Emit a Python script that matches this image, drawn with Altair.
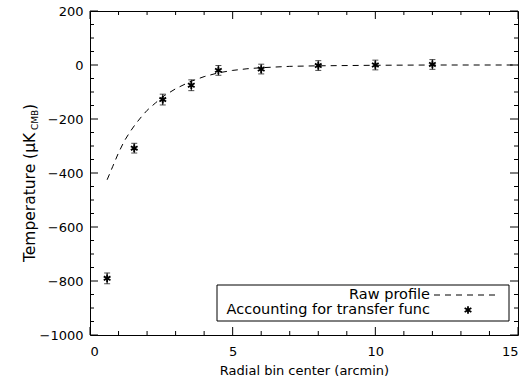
import altair as alt
import pandas as pd

# measured points (accounting for transfer function)
r_pts = [0.6, 1.55, 2.55, 3.55, 4.5, 6.0, 8.0, 10.0, 12.0]
t_pts = [-790, -308, -128, -75, -20, -15, -2, 0, 2]
t_err = [20, 18, 20, 20, 18, 18, 18, 18, 18]

# raw profile (dashed curve)
r_raw = [0.6, 0.8, 1.0, 1.2, 1.4, 1.6, 1.8, 2.0, 2.3, 2.6, 3.0, 3.5, 4.0, 4.5,
         5.0, 5.5, 6.0, 7.0, 8.0, 10.0, 12.0, 15.0]
t_raw = [-425, -375, -325, -282, -248, -218, -192, -168, -140, -114, -88, -62,
         -43, -29, -20, -14, -10, -5, -3, -1, 0, 0]

x_major = [0, 5, 10, 15]
x_minor = [v for v in range(0, 16) if v % 5 != 0]
y_major = [-1000, -800, -600, -400, -200, 0, 200]
y_minor = [v for v in range(-1000, 201, 50) if v % 200 != 0]

W, H = 428, 324
FONT = "DejaVu Sans"

pts = pd.DataFrame({"r": r_pts, "t": t_pts, "e": t_err})
pts["lo"] = pts["t"] - pts["e"]
pts["hi"] = pts["t"] + pts["e"]
raw = pd.DataFrame({"r": r_raw, "t": t_raw})

xs = alt.Scale(domain=[0, 15], nice=False, zero=False)
ys = alt.Scale(domain=[-1000, 200], nice=False, zero=False)

X = alt.X("r:Q", scale=xs,
          axis=alt.Axis(values=x_major, title="Radial bin center (arcmin)", format="d",
                        ticks=False, domain=False, grid=False, labelPadding=10,
                        titlePadding=6))
Y = alt.Y("t:Q", scale=ys,
          axis=alt.Axis(values=y_major, title=None, ticks=False, domain=False, format="d",
                        grid=False, labelPadding=7))

ASTER = "M0,-1L0,1M-0.866,-0.5L0.866,0.5M-0.866,0.5L0.866,-0.5"

line = alt.Chart(raw).mark_line(color="black", strokeDash=[6, 5], strokeWidth=1).encode(x=X, y=Y)

bars = alt.Chart(pts).mark_rule(color="black", strokeWidth=1).encode(
    x=alt.X("r:Q", scale=xs), y=alt.Y("lo:Q", scale=ys), y2="hi:Q")
cap_lo = alt.Chart(pts).mark_tick(color="black", orient="horizontal", size=6, thickness=1).encode(
    x=alt.X("r:Q", scale=xs), y=alt.Y("lo:Q", scale=ys))
cap_hi = alt.Chart(pts).mark_tick(color="black", orient="horizontal", size=6, thickness=1).encode(
    x=alt.X("r:Q", scale=xs), y=alt.Y("hi:Q", scale=ys))
stars = alt.Chart(pts).mark_point(shape=ASTER, size=60, filled=False, color="black",
                                  strokeWidth=1.8, opacity=1).encode(
    x=alt.X("r:Q", scale=xs), y=alt.Y("t:Q", scale=ys))

# inward ticks on all four sides
def xticks(vals, ln):
    d = pd.DataFrame({"v": vals})
    b = alt.Chart(d).mark_rule(color="black", strokeWidth=1).encode(
        x=alt.X("v:Q", scale=xs), y=alt.value(H), y2=alt.value(H - ln))
    t = alt.Chart(d).mark_rule(color="black", strokeWidth=1).encode(
        x=alt.X("v:Q", scale=xs), y=alt.value(0), y2=alt.value(ln))
    return b + t

def yticks(vals, ln):
    d = pd.DataFrame({"v": vals})
    l = alt.Chart(d).mark_rule(color="black", strokeWidth=1).encode(
        y=alt.Y("v:Q", scale=ys), x=alt.value(0), x2=alt.value(ln))
    r = alt.Chart(d).mark_rule(color="black", strokeWidth=1).encode(
        y=alt.Y("v:Q", scale=ys), x=alt.value(W), x2=alt.value(W - ln))
    return l + r

one = pd.DataFrame({"a": [0]})

# y-axis title with subscript
YT_X = -60
yt_main = alt.Chart(one).mark_text(text="Temperature (\u03bcK", angle=270, align="left",
                                   baseline="middle", font=FONT, fontSize=15.5, color="black").encode(
    x=alt.value(YT_X), y=alt.value(251))
yt_sub = alt.Chart(one).mark_text(text="CMB", angle=270, align="left",
                                  baseline="middle", font=FONT, fontSize=9, color="black").encode(
    x=alt.value(YT_X + 5), y=alt.value(119))
yt_par = alt.Chart(one).mark_text(text=")", angle=270, align="left",
                                  baseline="middle", font=FONT, fontSize=15.5, color="black").encode(
    x=alt.value(YT_X), y=alt.value(99))

# legend box
leg_box = alt.Chart(one).mark_rect(fill="white", stroke="black", strokeWidth=1).encode(
    x=alt.value(127), x2=alt.value(419), y=alt.value(274), y2=alt.value(310))
leg_t1 = alt.Chart(one).mark_text(text="Raw profile", align="right", baseline="middle",
                                  font=FONT, fontSize=14.5, color="black").encode(
    x=alt.value(340), y=alt.value(284))
leg_l1 = alt.Chart(one).mark_rule(color="black", strokeDash=[6, 5], strokeWidth=1).encode(
    x=alt.value(344), x2=alt.value(408), y=alt.value(284))
leg_t2 = alt.Chart(one).mark_text(text="Accounting for transfer func", align="right",
                                  baseline="middle", font=FONT, fontSize=14.5, color="black").encode(
    x=alt.value(340), y=alt.value(299))
leg_s2 = alt.Chart(one).mark_point(shape=ASTER, size=60, filled=False, color="black",
                                   strokeWidth=1.8, opacity=1).encode(
    x=alt.value(378), y=alt.value(299))

chart = alt.layer(
    line, bars, cap_lo, cap_hi, stars,
    xticks(x_major, 8), xticks(x_minor, 4), yticks(y_major, 8), yticks(y_minor, 4),
    yt_main, yt_sub, yt_par,
    leg_box, leg_t1, leg_l1, leg_t2, leg_s2,
).properties(
    width=W, height=H,
    autosize=alt.AutoSizeParams(type="none"),
    padding={"left": 90, "top": 11, "right": 9, "bottom": 44},
    background="white",
).configure_view(stroke="black", strokeWidth=1).configure_axis(
    labelFont=FONT, labelFontSize=13, labelColor="black",
    titleFont=FONT, titleFontSize=13, titleColor="black", titleFontWeight="normal",
)

chart.save("out.html", embed_options={"renderer": "svg", "actions": False})
